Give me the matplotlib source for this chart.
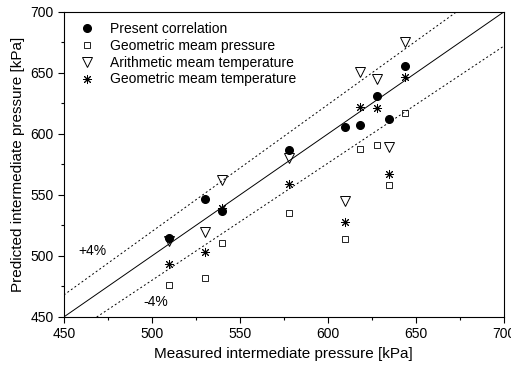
import matplotlib
matplotlib.use("Agg")
import matplotlib.pyplot as plt
import numpy as np

plt.rcParams['font.family'] = ['Liberation Sans', 'DejaVu Sans']

measured = [510, 530, 540, 578, 610, 618, 628, 635, 644]
present = [515, 547, 537, 587, 606, 607, 631, 612, 656]
geo_pressure = [476, 482, 511, 535, 514, 588, 591, 558, 617]
arith_temp = [512, 520, 562, 580, 545, 651, 645, 589, 675]
geo_temp = [493, 503, 539, 559, 528, 622, 621, 567, 647]

fig = plt.figure(figsize=(5.11, 3.72), dpi=100)
ax = fig.add_axes([0.125, 0.148, 0.861, 0.820])

# reference lines: y = x and +/-4 %
xl = np.array([450, 700])
ax.plot(xl, xl, color='black', lw=0.7)
ax.plot(xl, 1.04 * xl, color='black', lw=0.7, ls=(0, (2, 2.5)))
ax.plot(xl, 0.96 * xl, color='black', lw=0.7, ls=(0, (2, 2.5)))

ax.plot(measured, present, 'o', color='black', ms=5.5, ls='none',
        label='Present correlation')
ax.plot(measured, geo_pressure, 's', mfc='none', mec='black', mew=0.6, ms=4.5,
        ls='none', label='Geometric meam pressure')
ax.plot(measured, arith_temp, 'v', mfc='none', mec='black', mew=0.7, ms=6.5,
        ls='none', label='Arithmetic meam temperature')
ax.plot(measured, geo_temp, marker=(8, 2, 0), color='black', mew=0.7, ms=6.5,
        ls='none', label='Geometric meam temperature')

ax.text(466, 504, '+4%', fontsize=10, ha='center', va='center')
ax.text(502, 462, '-4%', fontsize=10, ha='center', va='center')

ax.set_xlim(450, 700)
ax.set_ylim(450, 700)
ax.set_xticks(np.arange(450, 701, 50))
ax.set_yticks(np.arange(450, 701, 50))
ax.set_xticks(np.arange(475, 700, 50), minor=True)
ax.set_yticks(np.arange(475, 700, 50), minor=True)
ax.tick_params(which='major', direction='out', length=4, width=0.8, labelsize=10)
ax.tick_params(which='minor', direction='out', length=2.5, width=0.8)
ax.set_xlabel('Measured intermediate pressure [kPa]', fontsize=11)
ax.set_ylabel('Predicted intermediate pressure [kPa]', fontsize=11)

ax.legend(loc='upper left', frameon=False, fontsize=10, handletextpad=0.85,
          labelspacing=0.2, borderaxespad=0.55, handlelength=1.5,
          bbox_to_anchor=(0.0, 1.01))

fig.savefig('out.png', dpi=100)
